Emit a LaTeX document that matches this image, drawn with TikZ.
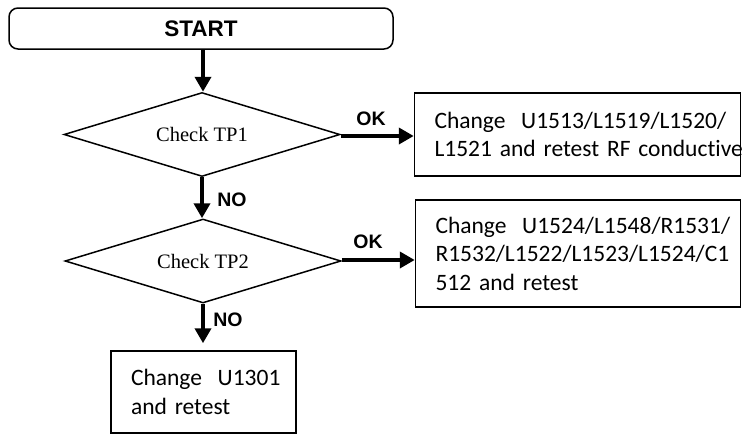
\documentclass[tikz,border=0pt]{standalone}
\usepackage{fontspec}
\newfontfamily\lsans{Liberation Sans}
\newfontfamily\lserif{Liberation Serif}
\newfontfamily\carl[WordSpace=0.75,Ligatures=NoCommon]{Carlito}
\usetikzlibrary{shapes.geometric,arrows.meta}
\tikzset{
  startbox/.style={draw, line width=1.5pt, rounded corners=9pt, minimum width=384pt, minimum height=41pt, inner sep=0pt, font=\lsans\bfseries\fontsize{22.5}{26}\selectfont},
  decision/.style={draw, diamond, aspect=3.3, line width=1.5pt, minimum width=276pt, minimum height=84pt, inner sep=0pt, font=\lserif\fontsize{20.5}{24}\selectfont},
  actbox/.style={draw, rectangle, line width=1.5pt, inner xsep=20pt, inner ysep=0pt, align=left, font=\carl\fontsize{23.5}{28.5}\selectfont},
  flow/.style={line width=4.5pt, -{Triangle[width=16pt,length=15pt]}},
  lbl/.style={inner sep=0pt, font=\lsans\bfseries\fontsize{19.5}{22}\selectfont}
}
\begin{document}
\begin{tikzpicture}[x=1pt,y=-1pt]
\useasboundingbox (0,0) rectangle (742,434);
\node[startbox] (start) at (201,28.5) {START};
\node[decision] (d1) at (202,134.5) {Check TP1};
\node[decision] (d2) at (203,261) {Check TP2};
\node[actbox, text width=286pt, minimum height=83pt] (b1) at (577.5,134.5)
  {\mbox{Change\ \ U1513/L1519/L1520/}\\\mbox{L1521 and retest RF conductive}};
\node[actbox, text width=285pt, minimum height=107pt] (b2) at (578,253.5)
  {\mbox{Change\ \ U1524/L1548/R1531/}\\\mbox{R1532/L1522/L1523/L1524/C1}\\\mbox{512 and retest}};
\node[actbox, text width=145pt, minimum height=82pt] (b3) at (203.5,392)
  {\mbox{Change\ \ U1301}\\\mbox{and retest}};
\draw[flow] (start.south -| d1.north) ++(1pt,0) coordinate (s1) -- (s1 |- d1.north);
\draw[flow] (d1.south) -- (d2.north -| d1.south);
\draw[flow] (d2.south) -- ([yshift=7pt]b3.north -| d2.south);
\draw[flow] (d1.east) ++(0,-1.5pt) coordinate (e1) -- (e1 -| b1.west);
\draw[flow] (d2.east) ++(0,1pt) coordinate (e2) -- (e2 -| b2.west);
\node[lbl] (ok1) at (371,119) {OK};
\node[lbl] (no1) at (232,200) {NO};
\node[lbl] (ok2) at (368,242) {OK};
\node[lbl] (no2) at (228,320) {NO};
\end{tikzpicture}
\end{document}
